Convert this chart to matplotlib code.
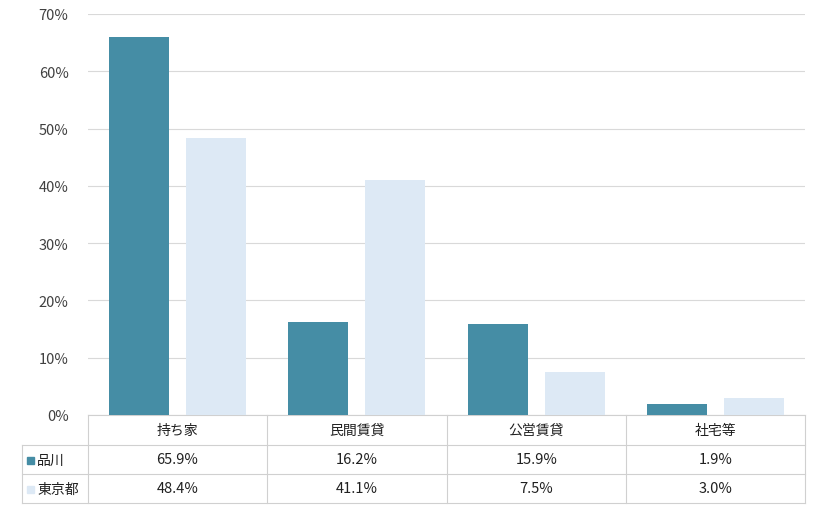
import matplotlib
matplotlib.use("Agg")
import matplotlib.pyplot as plt
from matplotlib.lines import Line2D
from matplotlib.patches import Rectangle

plt.rcParams['font.family'] = ['Noto Sans CJK JP', 'DejaVu Sans']

categories = ["持ち家", "民間賃貸", "公営賃貸", "社宅等"]
series_names = ["品川", "東京都"]
shinagawa = [65.9, 16.2, 15.9, 1.9]
tokyo = [48.4, 41.1, 7.5, 3.0]
colors = ["#458DA5", "#DDE9F5"]
yticks = [0, 10, 20, 30, 40, 50, 60, 70]

W, H = 820, 510
fig = plt.figure(figsize=(W/100, H/100), dpi=100)
L, R, T, B = 88, 805, 15, 416
ax = fig.add_axes([L/W, 1-B/H, (R-L)/W, (B-T)/H])
n = len(categories)
xs = list(range(n))
bw = 0.335
ax.bar([x-0.215 for x in xs], shinagawa, bw, color=colors[0], zorder=3)
ax.bar([x+0.215 for x in xs], tokyo, bw, color=colors[1], zorder=3)
ax.set_xlim(-0.5, n-0.5)
ax.set_ylim(0, 70)
ax.set_yticks(yticks)
ax.set_yticklabels([f"{v}%" for v in yticks], color="#404040", fontsize=10.5)
ax.set_xticks([])
ax.yaxis.grid(True, color="#D9D9D9", lw=0.8, zorder=0)
ax.tick_params(axis='y', length=0, pad=14)
for s in ["top", "right", "left"]:
    ax.spines[s].set_visible(False)
ax.spines["bottom"].set_color("#D0D0D0")

# table
lc = "#D0D0D0"
def fx(px): return px/W
def fy(py): return 1-py/H
cols = [88, 267, 447, 626, 805]
rows = [416, 446, 475, 504]
for i, c in enumerate(cols):
    top = rows[0]
    fig.add_artist(Line2D([fx(c), fx(c)], [fy(top), fy(rows[-1])], color=lc, lw=0.8))
fig.add_artist(Line2D([fx(22), fx(22)], [fy(446), fy(504)], color=lc, lw=0.8))
for r in rows[1:]:
    fig.add_artist(Line2D([fx(22), fx(805)], [fy(r), fy(r)], color=lc, lw=0.8))
for i, cat in enumerate(categories):
    cx = (cols[i]+cols[i+1])/2
    fig.text(fx(cx), fy(431), cat, ha='center', va='center', fontsize=10, color="#202020")
for j, (name, vals) in enumerate(zip(series_names, [shinagawa, tokyo])):
    cy = (rows[j+1]+rows[j+2])/2
    fig.add_artist(Rectangle((fx(27), fy(cy+4)), 7/W, 7/H, color=colors[j], transform=fig.transFigure))
    fig.text(fx(37), fy(cy), name, ha='left', va='center', fontsize=10, color="#202020")
    for i, v in enumerate(vals):
        cx = (cols[i]+cols[i+1])/2
        fig.text(fx(cx), fy(cy), f"{v:.1f}%", ha='center', va='center', fontsize=10.5, color="#202020")

fig.savefig("out.png", dpi=100)
